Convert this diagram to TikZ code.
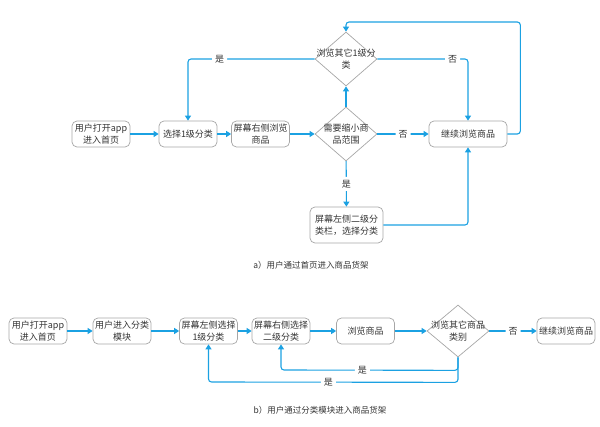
\documentclass[tikz,border=0pt]{standalone}
\usepackage{fontspec}
\newfontfamily\cjkfont{Noto Sans CJK SC}
\usetikzlibrary{shapes.geometric, arrows.meta}

\definecolor{flowblue}{HTML}{1BA1E2}
\definecolor{boxgray}{HTML}{A6A6A6}
\definecolor{txtgray}{HTML}{333333}

\tikzset{
    box/.style={draw=boxgray, line width=.7pt, rounded corners=5pt, minimum width=58pt, minimum height=26pt,
        inner sep=1pt, align=center, text=txtgray, font=\cjkfont\fontsize{9}{12.5}\selectfont},
    dia/.style={draw=boxgray, line width=.7pt, diamond, inner sep=0pt, minimum width=62pt, minimum height=54pt},
    diatext/.style={align=center, text=txtgray, font=\cjkfont\fontsize{9}{12.5}\selectfont},
    flow/.style={draw=flowblue, line width=1.1pt, rounded corners=3pt, -{Triangle[length=5pt,width=6pt]}},
    lbl/.style={fill=white, inner sep=3pt, text=txtgray, font=\cjkfont\fontsize{9}{11}\selectfont},
    caption/.style={text=txtgray, font=\cjkfont\fontsize{8.5}{10}\selectfont}
}

\begin{document}
\begin{tikzpicture}[x=1pt, y=-1pt]
    \useasboundingbox (0,0) rectangle (600,427);

    % a) Home page
    \node[box] (A) at (101,134) {用户打开app\\进入首页};
    \node[box] (B) at (188,134) {选择1级分类};
    \node[box] (C) at (260.5,134) {屏幕右侧浏览\\商品};
    \node[dia, label={[diatext]center:需要缩小商\\品范围}] (D) at (346,134) {};
    \node[dia, label={[diatext]center:浏览其它1级分\\类}] (E) at (346,59) {};
    \node[box, minimum width=78pt] (F) at (468,134) {继续浏览商品};
    \node[box, minimum width=73pt, minimum height=36pt] (G) at (346.5,225) {屏幕左侧二级分\\类栏，选择分类};
    \node[caption] (cap-a) at (311,265) {a）用户通过首页进入商品货架};

    % Arrows a)
    \draw[flow] (A) -- (B);
    \draw[flow] (B) -- (C);
    \draw[flow] (C) -- (D);
    \draw[flow] (D) -- node[lbl] {否} (F);
    \draw[flow] (D) -- node[lbl] {是} (G);
    \draw[flow] (D) -- (E);
    \draw[flow] (E.west) -- node[lbl, pos=.75] {是} (E.west -| B.north) -- (B.north);
    \draw[flow] (E.east) -- node[lbl, pos=.83] {否} (E.east -| F.north) -- (F.north);
    \draw[flow] (G.east) -| (F.south);
    \draw[flow] (F.east) -- ++(13,0) -- ++(0,-112) -| (E.north);

    % b) Category module
    \foreach \name/\x/\i in {{用户打开app\\进入首页}/38/1, {用户进入分类\\模块}/122/2,
        {屏幕左侧选择\\1级分类}/208.5/3, {屏幕右侧选择\\二级分类}/281/4, 浏览商品/365.5/5} {
        \node[box] (b\i) at (\x,331) {\name};
    }
    \node[dia, minimum height=52pt, label={[diatext]center:浏览其它商品\\类别}] (b6) at (458,331) {};
    \node[box] (b7) at (566,331) {继续浏览商品};
    \node[caption] (cap-b) at (320,410) {b）用户通过分类模块进入商品货架};

    % Arrows b)
    \foreach \i/\j in {1/2,2/3,3/4,4/5,5/6} {
        \draw[flow] (b\i) -- (b\j);
    }
    \draw[flow] (b6) -- node[lbl] {否} (b7);
    \draw[flow] (b6.south) -- ++(0,13) -- node[lbl, pos=.54] {是} (b4.south |- 0,370) -- (b4.south);
    \draw[flow] (b6.south) -- ++(0,25) -- node[lbl, pos=.52] {是} (b3.south |- 0,382) -- (b3.south);
\end{tikzpicture}
\end{document}
